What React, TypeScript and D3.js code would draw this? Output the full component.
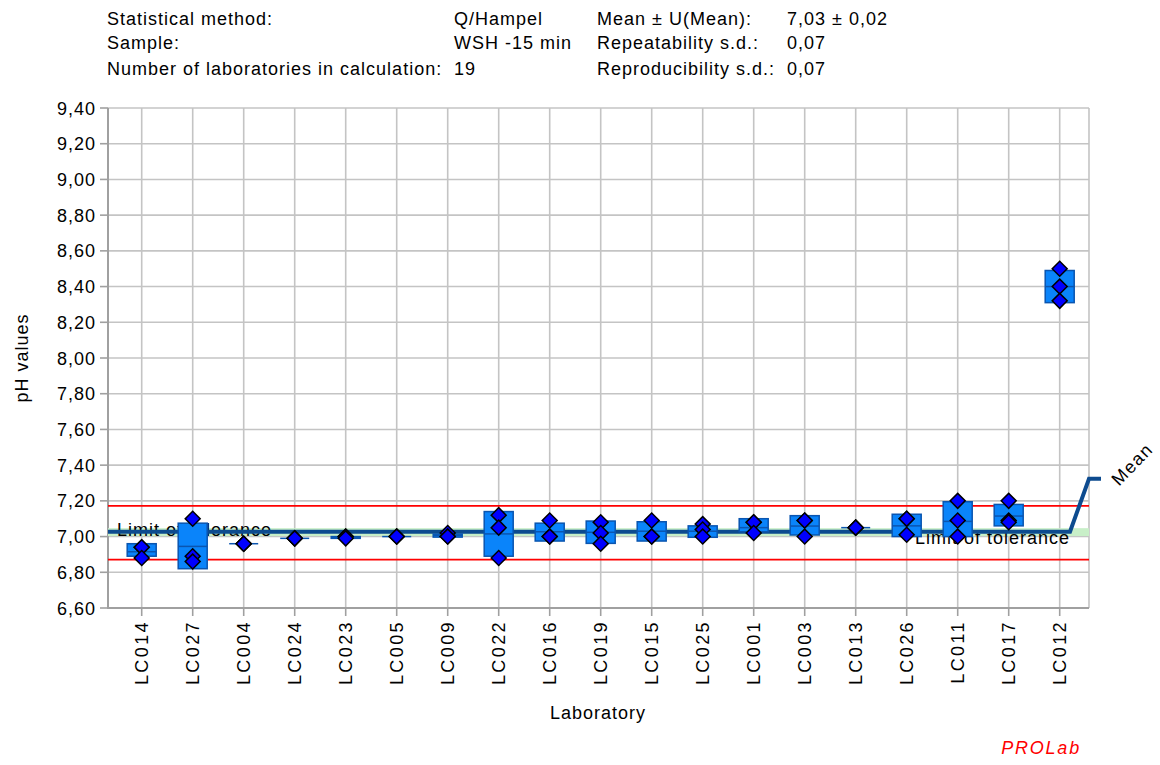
import React from "react";
import * as d3 from "d3";

const labs = ["LC014","LC027","LC004","LC024","LC023","LC005","LC009","LC022","LC016","LC019","LC015","LC025","LC001","LC003","LC013","LC026","LC011","LC017","LC012"];
const rep1 = [6.94, 7.10, 6.96, 6.99, 7.00, 7.00, 7.02, 7.12, 7.09, 7.08, 7.09, 7.07, 7.08, 7.09, 7.05, 7.10, 7.20, 7.20, 8.50];
const rep2 = [6.94, 6.89, 6.96, 6.99, 7.00, 7.00, 7.00, 7.05, 7.00, 7.02, 7.00, 7.04, 7.08, 7.09, 7.05, 7.10, 7.09, 7.09, 8.40];
const rep3 = [6.88, 6.86, 6.96, 6.99, 6.99, 7.00, 7.00, 6.88, 7.00, 6.96, 7.00, 7.00, 7.02, 7.00, 7.05, 7.01, 7.00, 7.08, 8.32];
const boxLow = [6.89, 6.82, 6.96, 6.99, 6.99, 7.00, 6.997, 6.89, 6.975, 6.962, 6.975, 6.996, 7.027, 7.009, 7.05, 7.00, 7.00, 7.06, 8.31];
const boxMid = [6.915, 6.945, 6.96, 6.99, 6.997, 7.00, 7.007, 7.015, 7.027, 7.024, 7.03, 7.03, 7.05, 7.059, 7.05, 7.06, 7.085, 7.115, 8.40];
const boxHigh = [6.96, 7.075, 6.96, 6.99, 7.00, 7.00, 7.014, 7.14, 7.075, 7.087, 7.083, 7.06, 7.10, 7.117, 7.05, 7.125, 7.195, 7.18, 8.49];

const meanValue = 7.027;
const bandLow = 7.003;
const bandHigh = 7.047;
const tolUpper = 7.172;
const tolLower = 6.871;
const yTicks = [6.6, 6.8, 7.0, 7.2, 7.4, 7.6, 7.8, 8.0, 8.2, 8.4, 8.6, 8.8, 9.0, 9.2, 9.4];

const headerRows = [
  ["Statistical method:", "Q/Hampel", "Mean ± U(Mean):", "7,03 ± 0,02"],
  ["Sample:", "WSH -15 min", "Repeatability s.d.:", "0,07"],
  ["Number of laboratories in calculation:", "19", "Reproducibility s.d.:", "0,07"],
];

const FONT = "'Liberation Sans', Arial, sans-serif";

export default function App() {
  const W = 1160, H = 765;
  const left = 108, right = 1089, top = 108, bottom = 608;
  const x = d3.scalePoint<string>().domain(labs).range([141.7, 1059.7]);
  const y = d3.scaleLinear().domain([6.6, 9.4]).range([bottom, top]);
  const fmt = (v: number) => d3.format(".2f")(v).replace(".", ",");
  const gridColor = "#c4c4c4";
  const axisColor = "#a0a0a0";
  const boxW = 29;
  const FS = 18;
  const LS = 1.0;
  const diamond = d3.symbol().type(d3.symbolSquare).size(112)() as string;
  const ym = y(meanValue);
  const meanPath = d3.line()([
    [left, ym],
    [right - 19, ym],
    [right, ym - 53],
    [right + 12, ym - 53],
  ]) as string;
  const colX = [107, 454, 597, 787];
  const rowY = [24.5, 49, 74.5];
  const reps = [rep1, rep2, rep3];

  return (
    <svg width={W} height={H} style={{ position: "absolute", left: 0, top: 0, background: "#fff" }} fontFamily={FONT}>
      <rect x={0} y={0} width={W} height={H} fill="#fff" />
      {headerRows.map((row, ri) =>
        row.map((t, ci) => (
          <text key={`h${ri}-${ci}`} x={colX[ci]} y={rowY[ri]} fontSize={FS} letterSpacing={LS} fill="#000">{t}</text>
        ))
      )}
      {/* grid */}
      {yTicks.map((t) => (
        <line key={`gy${t}`} x1={left} x2={right} y1={y(t)} y2={y(t)} stroke={gridColor} strokeWidth={1.6} />
      ))}
      {labs.map((l) => (
        <line key={`gx${l}`} x1={x(l)} x2={x(l)} y1={top} y2={bottom} stroke={gridColor} strokeWidth={1.6} />
      ))}
      <line x1={right} x2={right} y1={top} y2={bottom} stroke={gridColor} strokeWidth={1.6} />
      {/* axes */}
      <line x1={left} x2={left} y1={top} y2={bottom + 1} stroke={axisColor} strokeWidth={2} />
      <line x1={left} x2={right} y1={bottom} y2={bottom} stroke={axisColor} strokeWidth={2} />
      {yTicks.map((t) => (
        <g key={`yt${t}`}>
          <line x1={left - 8} x2={left} y1={y(t)} y2={y(t)} stroke={axisColor} strokeWidth={1.6} />
          <text x={96} y={y(t) + 6.5} textAnchor="end" fontSize={FS} letterSpacing={LS} fill="#000">{fmt(t)}</text>
        </g>
      ))}
      {labs.map((l) => (
        <g key={`xt${l}`}>
          <line x1={x(l)} x2={x(l)} y1={bottom} y2={bottom + 8} stroke={axisColor} strokeWidth={1.6} />
          <text transform={`translate(${(x(l) as number) + 6.5},${620}) rotate(-90)`} textAnchor="end" fontSize={FS} letterSpacing={2.4} fill="#000">{l}</text>
        </g>
      ))}
      <text transform={`translate(28,${358}) rotate(-90)`} textAnchor="middle" fontSize={FS} letterSpacing={LS} fill="#000">pH values</text>
      <text x={598} y={719} textAnchor="middle" fontSize={FS} letterSpacing={LS} fill="#000">Laboratory</text>
      <text x={1081} y={754} textAnchor="end" fontSize={FS} fontStyle="italic" letterSpacing={1.8} fill="#ff0000">PROLab</text>
      {/* mean band and tolerance */}
      <rect x={left} y={y(bandHigh)} width={right - left} height={y(bandLow) - y(bandHigh)} fill="#c8efc8" />
      <line x1={left} x2={right} y1={y(tolUpper)} y2={y(tolUpper)} stroke="#ff0000" strokeWidth={1.6} />
      <line x1={left} x2={right} y1={y(tolLower)} y2={y(tolLower)} stroke="#ff0000" strokeWidth={1.6} />
      <text x={117} y={536} fontSize={FS} letterSpacing={LS} fill="#000">Limit of tolerance</text>
      <text x={915} y={544} fontSize={FS} letterSpacing={LS} fill="#000">Limit of tolerance</text>
      <path d={meanPath} fill="none" stroke="#0d4b8f" strokeWidth={4} />
      <text transform={`translate(${right + 30},${ym - 45}) rotate(-46)`} fontSize={FS} letterSpacing={1.4} fill="#000">Mean</text>
      {/* boxes */}
      {labs.map((l, i) => {
        const cx = x(l) as number;
        const y1 = y(boxHigh[i]);
        const y2 = y(boxLow[i]);
        return (
          <g key={`b${l}`}>
            <rect x={cx - boxW / 2} y={y1} width={boxW} height={Math.max(0, y2 - y1)} fill="#0a84fa" stroke="#0a55b0" strokeWidth={1.5} />
            <line x1={cx - boxW / 2} x2={cx + boxW / 2} y1={y(boxMid[i])} y2={y(boxMid[i])} stroke="#0a55b0" strokeWidth={1.5} />
          </g>
        );
      })}
      {/* points */}
      {labs.map((l, i) =>
        reps.map((r, k) => (
          <path key={`p${l}-${k}`} d={diamond} transform={`translate(${x(l)},${y(r[i])}) rotate(45)`} fill="#0000ff" stroke="#000" strokeWidth={1.5} />
        ))
      )}
    </svg>
  );
}
